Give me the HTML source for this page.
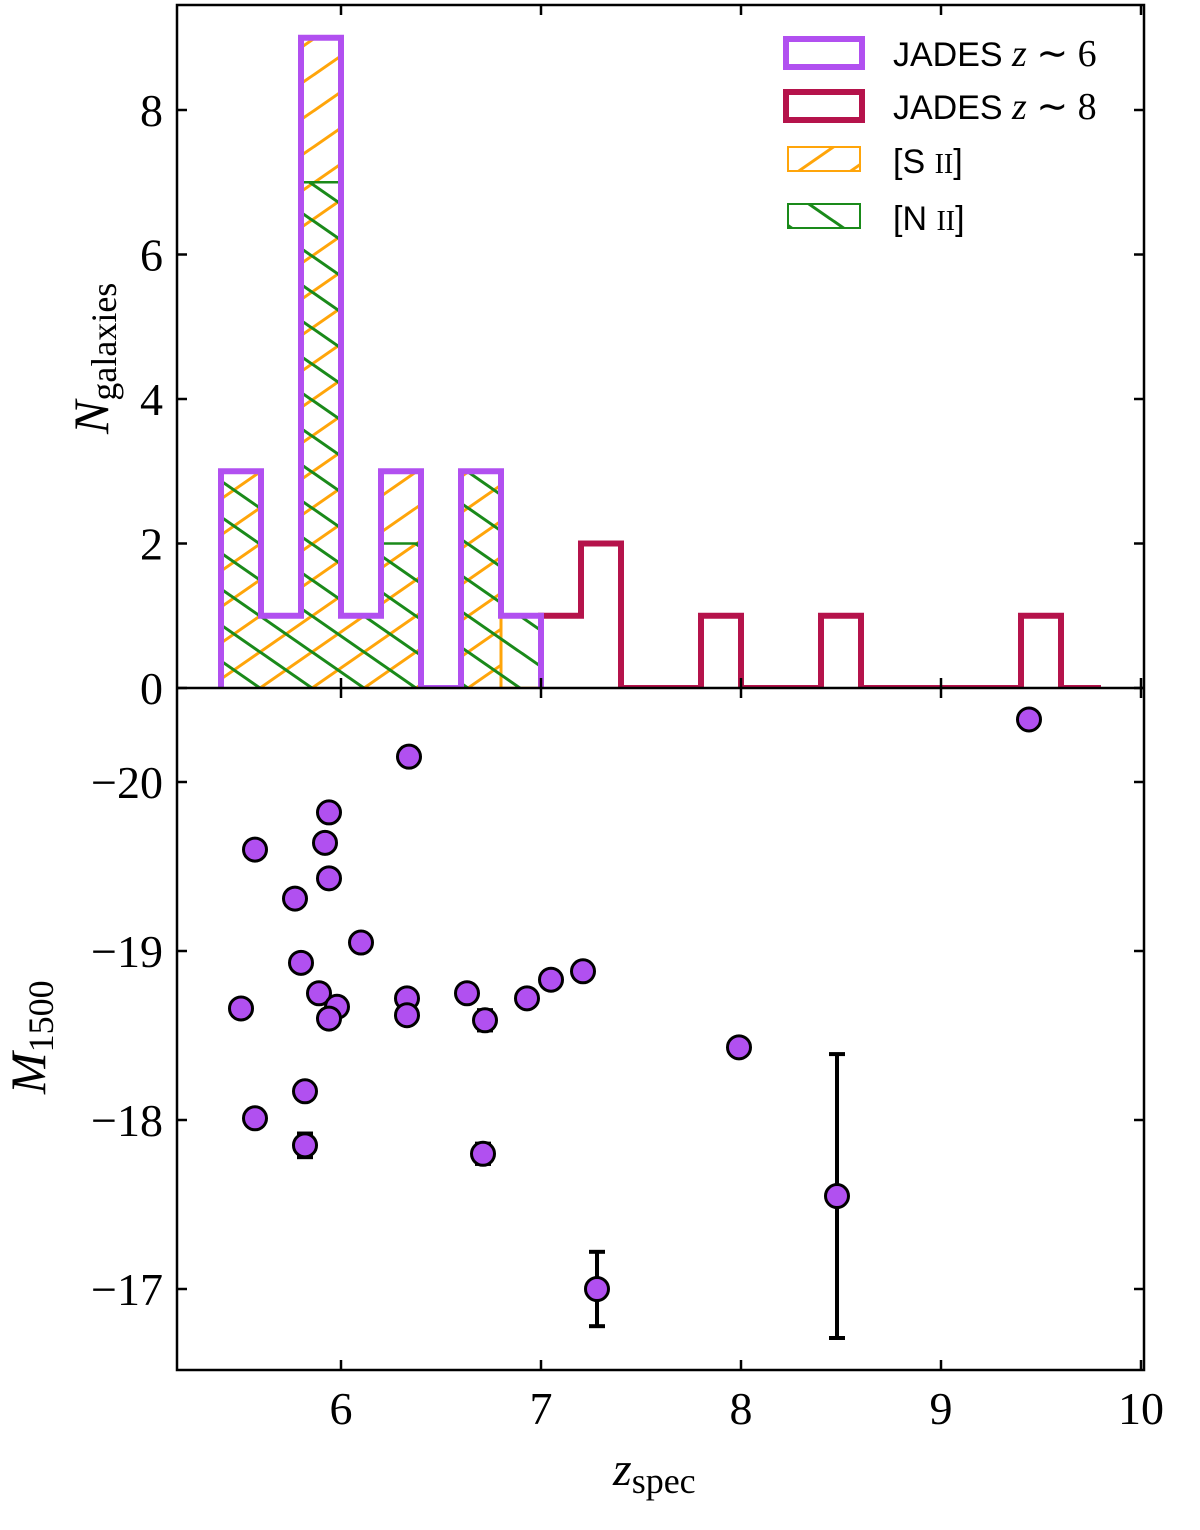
<!DOCTYPE html>
<html><head><meta charset="utf-8"><style>
html,body{margin:0;padding:0;background:#fff;width:1200px;height:1530px;overflow:hidden}
svg{display:block}
</style></head><body>
<svg id="chart" width="1200" height="1530" xmlns="http://www.w3.org/2000/svg">
<defs>
<pattern id="hatchS" patternUnits="userSpaceOnUse" x="0" y="688" width="52" height="36">
<line x1="-5" y1="39.5" x2="57" y2="-3.5" stroke="#ffa50a" stroke-width="3"/>
<line x1="-57" y1="39.5" x2="5" y2="-3.5" stroke="#ffa50a" stroke-width="3"/>
<line x1="47" y1="39.5" x2="109" y2="-3.5" stroke="#ffa50a" stroke-width="3"/>
</pattern>
<pattern id="hatchN" patternUnits="userSpaceOnUse" x="0" y="688" width="52" height="36">
<line x1="-5" y1="-3.5" x2="57" y2="39.5" stroke="#1a8a1a" stroke-width="3"/>
<line x1="-57" y1="-3.5" x2="5" y2="39.5" stroke="#1a8a1a" stroke-width="3"/>
<line x1="47" y1="-3.5" x2="109" y2="39.5" stroke="#1a8a1a" stroke-width="3"/>
</pattern>
<clipPath id="topClip"><rect x="177" y="5" width="967" height="683"/></clipPath>
<clipPath id="botClip"><rect x="177" y="688" width="967" height="682"/></clipPath>
</defs>
<g id="top"></g>
<g id="bot"></g>
<g id="axes"></g>
<g id="legend" font-family="Liberation Sans, sans-serif" font-size="34">
<rect x="786" y="39" width="76" height="28" fill="none" stroke="#b150f0" stroke-width="6"/>
<text x="893" y="66">JADES <tspan font-family="Liberation Serif, serif" font-style="italic" font-size="38">z</tspan><tspan font-family="Liberation Serif, serif" font-size="38"> ∼ 6</tspan></text>
<rect x="786" y="92" width="76" height="28" fill="none" stroke="#b5134b" stroke-width="6"/>
<text x="893" y="119">JADES <tspan font-family="Liberation Serif, serif" font-style="italic" font-size="38">z</tspan><tspan font-family="Liberation Serif, serif" font-size="38"> ∼ 8</tspan></text>
<rect x="788" y="147" width="72" height="24" fill="url(#hatchS)" stroke="#ffa50a" stroke-width="2"/>
<text x="893" y="173">[S <tspan font-family="Liberation Serif, serif" font-size="28">II</tspan>]</text>
<rect x="788" y="204" width="72" height="24" fill="url(#hatchN)" stroke="#1a8a1a" stroke-width="2"/>
<text x="893" y="230">[N <tspan font-family="Liberation Serif, serif" font-size="28">II</tspan>]</text>
</g>
</svg>
<script>
const binStarts6 = [5.4,5.6,5.8,6.0,6.2,6.4,6.6,6.8];
const countsZ6 = [3,1,9,1,3,0,3,1];
const countsSII = [3,1,9,1,3,0,3,0];
const countsNII = [3,1,7,1,2,0,3,1];
const binStarts8 = [7.0,7.2,7.4,7.6,7.8,8.0,8.2,8.4,8.6,8.8,9.0,9.2,9.4,9.6];
const countsZ8 = [1,2,0,0,1,0,0,1,0,0,0,0,1,0];
const binWidth = 0.2;
const zPts = [5.50,5.57,5.57,5.77,5.80,5.82,5.82,5.89,5.92,5.94,5.94,5.98,5.94,6.10,6.34,6.33,6.33,6.63,6.72,6.71,6.93,7.05,7.21,7.28,7.99,8.48,9.44];
const mPts = [-18.66,-19.60,-18.01,-19.31,-18.93,-18.17,-17.85,-18.75,-19.64,-19.82,-19.43,-18.67,-18.60,-19.05,-20.15,-18.72,-18.62,-18.75,-18.59,-17.80,-18.72,-18.83,-18.88,-17.00,-18.43,-17.55,-20.37];
const mErr = [0,0,0,0,0,0,0.07,0,0,0,0,0,0,0,0,0,0,0,0.06,0.06,0,0,0,0.22,0,0.84,0];
const xTicks = [6,7,8,9,10];
const yTicksTop = [0,2,4,6,8];
const yTicksBot = [-20,-19,-18,-17];

const NS='http://www.w3.org/2000/svg';
const X = z => 341 + (z-6)*200;
const YT = n => 688 - n*72.25;
const YB = m => 951 + (m+19)*169;
const L=177,R=1144,T=5,MID=688,B=1370;
function mk(tag, attrs, parent){const e=document.createElementNS(NS,tag);for(const k in attrs)e.setAttribute(k,attrs[k]);parent.appendChild(e);return e;}
function stepPath(starts, counts){
  let d='M'+X(starts[0])+','+YT(0);
  starts.forEach((s,i)=>{d+=' L'+X(s)+','+YT(counts[i])+' L'+X(s+binWidth)+','+YT(counts[i]);});
  d+=' L'+X(starts[starts.length-1]+binWidth)+','+YT(0);
  return d;
}
const topG=document.getElementById('top');
const gT=mk('g',{'clip-path':'url(#topClip)'},topG);
binStarts6.forEach((s,i)=>{ if(countsSII[i]>0){
  const r=mk('rect',{x:X(s),y:YT(countsSII[i]),width:X(s+binWidth)-X(s),height:YT(0)-YT(countsSII[i]),fill:'url(#hatchS)'},gT);
  
  
}});
const sOut=mk('path',{d:stepPath(binStarts6,countsSII),fill:'none',stroke:'#ffa50a','stroke-width':2.5},gT);


mk('line',{x1:X(6.8),y1:YT(1),x2:X(6.8),y2:YT(0),stroke:'#ffa50a','stroke-width':3},gT);
binStarts6.forEach((s,i)=>{ if(countsNII[i]>0){
  const r=mk('rect',{x:X(s),y:YT(countsNII[i]),width:X(s+binWidth)-X(s),height:YT(0)-YT(countsNII[i]),fill:'url(#hatchN)'},gT);
  
  
}});
const nOut=mk('path',{d:stepPath(binStarts6,countsNII),fill:'none',stroke:'#1a8a1a','stroke-width':2.5},gT);


const p8=mk('path',{d:stepPath(binStarts8,countsZ8),fill:'none',stroke:'#b5134b','stroke-width':6,'stroke-linejoin':'miter'},gT);


const p6=mk('path',{d:stepPath(binStarts6,countsZ6),fill:'none',stroke:'#b150f0','stroke-width':6,'stroke-linejoin':'miter'},gT);



const botG=document.getElementById('bot');
const gB=mk('g',{'clip-path':'url(#botClip)'},botG);
zPts.forEach((z,i)=>{
  if(mErr[i]>0){
    const x=X(z),y1=YB(mPts[i]-mErr[i]),y2=YB(mPts[i]+mErr[i]);
    const eg=mk('g',{stroke:'#000','stroke-width':4},gB);
    
    
    mk('line',{x1:x,y1:y1,x2:x,y2:y2},eg);
    mk('line',{x1:x-8,y1:y1,x2:x+8,y2:y1},eg);
    mk('line',{x1:x-8,y1:y2,x2:x+8,y2:y2},eg);
  }
});
zPts.forEach((z,i)=>{
  const c=mk('circle',{cx:X(z),cy:YB(mPts[i]),r:11.5,fill:'#b150f0',stroke:'#000','stroke-width':3},gB);
  
  
});

const ax=document.getElementById('axes');
const fr=mk('g',{fill:'none',stroke:'#000','stroke-width':2.5},ax);
mk('rect',{x:L,y:T,width:R-L,height:B-T},fr);
mk('line',{x1:L,y1:MID,x2:R,y2:MID},fr);
const tk=mk('g',{stroke:'#000','stroke-width':2.5},ax);
const tx=mk('g',{'font-family':'Liberation Serif, serif','font-size':46,fill:'#000'},ax);
xTicks.forEach(v=>{
  const x=X(v);
  [[T,1],[MID,-1],[MID,1],[B,-1]].forEach(([y,d])=>mk('line',{x1:x,y1:y,x2:x,y2:y+d*10},tk));
  const t=mk('text',{x:x,y:B+54,'text-anchor':'middle'},tx);
  t.textContent=String(v);
  
  
});
yTicksTop.forEach(v=>{
  const y=YT(v);
  mk('line',{x1:L,y1:y,x2:L+10,y2:y},tk);mk('line',{x1:R,y1:y,x2:R-10,y2:y},tk);
  const t=mk('text',{x:L-14,y:y+16,'text-anchor':'end'},tx);
  t.textContent=String(v);
  
  
});
yTicksBot.forEach(v=>{
  const y=YB(v);
  mk('line',{x1:L,y1:y,x2:L+10,y2:y},tk);mk('line',{x1:R,y1:y,x2:R-10,y2:y},tk);
  const t=mk('text',{x:L-14,y:y+16,'text-anchor':'end'},tx);
  t.textContent='−'+Math.abs(v);
  
  
});
const xl=mk('text',{x:613,y:1485,'font-family':'Liberation Serif, serif','font-size':48},ax);
xl.innerHTML='<tspan font-style="italic">z</tspan><tspan font-size="36" dy="8">spec</tspan>';


const yl1=mk('text',{transform:'translate(108,434) rotate(-90)','font-family':'Liberation Serif, serif','font-size':50},ax);
yl1.innerHTML='<tspan font-style="italic">N</tspan><tspan font-size="36" dy="8">galaxies</tspan>';


const yl2=mk('text',{transform:'translate(45,1094) rotate(-90)','font-family':'Liberation Serif, serif','font-size':50},ax);
yl2.innerHTML='<tspan font-style="italic">M</tspan><tspan font-size="36" dy="8">1500</tspan>';


</script>
</body></html>
